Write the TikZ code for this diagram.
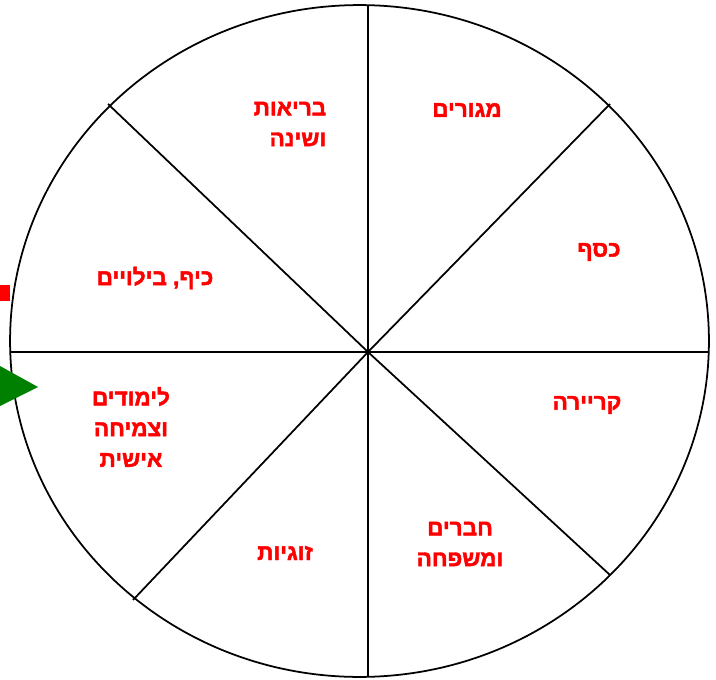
\documentclass[tikz,border=0pt]{standalone}
\usepackage{fontspec}
\usepackage{xcolor}
\usepackage{tikz}
\TeXXeTstate=1
\newfontfamily\hebfont[Script=Hebrew,BoldFont={Liberation Sans Bold},BoldFeatures={FakeBold=2}]{Liberation Sans}
\definecolor{spoke}{HTML}{000000}
\definecolor{lblred}{HTML}{FF0000}
\definecolor{markgreen}{HTML}{008000}
\newcommand{\heb}[1]{\beginR #1\endR}

\begin{document}
\begin{tikzpicture}[x=0.02cm,y=-0.02cm,
    lbl/.style={text=lblred,font=\hebfont\bfseries\fontsize{12.8}{17.5}\selectfont,align=center,inner sep=0pt}]
    \useasboundingbox (0,0) rectangle (716,679);
    % wheel
    \draw[line width=1pt,spoke] (359.5,341) ellipse [x radius=6.99cm,y radius=6.72cm];
    \coordinate (c) at (368,352);
    \coordinate (n) at (368,5);
    \coordinate (s) at (368,677);
    \coordinate (w) at (10,352);
    \coordinate (e) at (709,352);
    \coordinate (nw) at (108,104);
    \coordinate (se) at (610,575);
    \coordinate (ne) at (610,104);
    \coordinate (sw) at (133,600);
    \draw[line width=1pt,spoke] (n) -- (c) -- (s);
    \draw[line width=1pt,spoke] (w) -- (c) -- (e);
    \draw[line width=1pt,spoke] (nw) -- (c) -- (se);
    \draw[line width=1pt,spoke] (ne) -- (c) -- (sw);
    % labels
    \node[lbl] (home) at (467,110) {\heb{מגורים}};
    \node[lbl,align=right] (health) at (290,124) {\heb{בריאות}\\\heb{ושינה}};
    \node[lbl] (money) at (599,252) {\heb{כסף}};
    \node[lbl] (fun) at (155,278) {\heb{כיף, בילויים}};
    \node[lbl] (career) at (587,405) {\heb{קריירה}};
    \node[lbl] (growth) at (131,427) {\heb{לימודים}\\\heb{וצמיחה}\\\heb{אישית}};
    \node[lbl] (family) at (460,544) {\heb{חברים}\\\heb{ומשפחה}};
    \node[lbl] (couple) at (285,553) {\heb{זוגיות}};
    % markers
    \fill[lblred] (0,285) rectangle (10,301);
    \fill[markgreen] (0,366) -- (38,387) -- (0,406) -- cycle;
\end{tikzpicture}
\end{document}
